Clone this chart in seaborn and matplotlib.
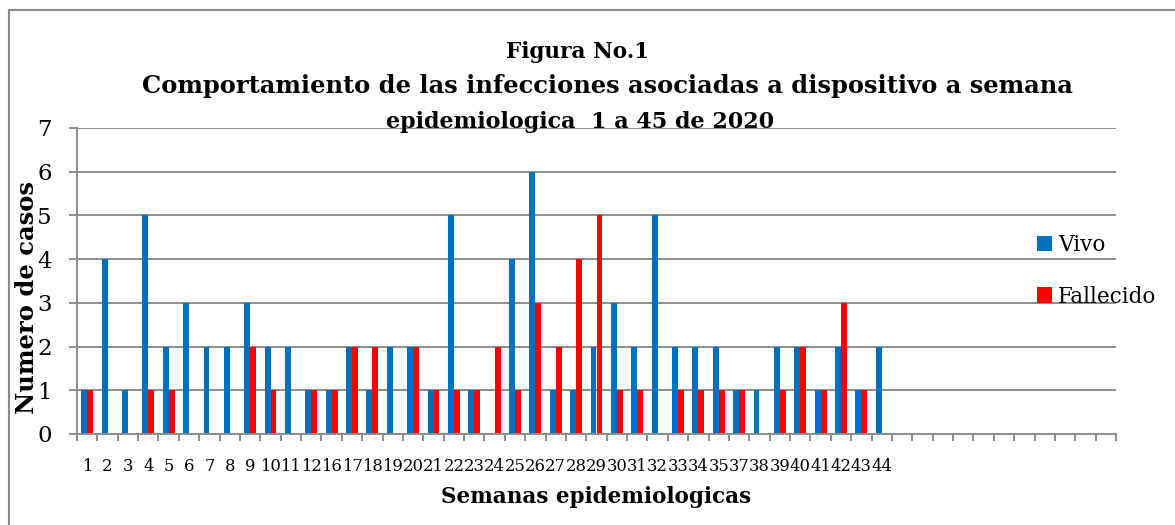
import matplotlib
matplotlib.use("Agg")
import matplotlib.pyplot as plt
from matplotlib.lines import Line2D
import seaborn as sns
import pandas as pd

# ---- data ----
semanas = ["1", "2", "3", "4", "5", "6", "7", "8", "9", "10", "11", "12",
           "16", "17", "18", "19", "20", "21", "22", "23", "24", "25", "26",
           "27", "28", "29", "30", "31", "32", "33", "34", "35", "37", "38",
           "39", "40", "41", "42", "43", "44"]
vivo = [1, 4, 1, 5, 2, 3, 2, 2, 3, 2, 2, 1,
        1, 2, 1, 2, 2, 1, 5, 1, 0, 4, 6,
        1, 1, 2, 3, 2, 5, 2, 2, 2, 1, 1,
        2, 2, 1, 2, 1, 2]
fallecido = [1, 0, 0, 1, 1, 0, 0, 0, 2, 1, 0, 1,
             1, 2, 2, 0, 2, 1, 1, 1, 2, 1, 3,
             2, 4, 5, 1, 1, 0, 1, 1, 1, 1, 0,
             1, 2, 1, 3, 1, 0]
n_vacias = 11  # empty trailing categories on the axis
series = ["Vivo", "Fallecido"]
colores = ["#0070C0", "#FF0000"]

titulo1 = "Figura No.1"
titulo2 = "Comportamiento de las infecciones asociadas a dispositivo a semana"
titulo3 = "epidemiologica  1 a 45 de 2020"
xlabel = "Semanas epidemiologicas"
ylabel = "Numero de casos"

# ---- build long table ----
vacias = [f"_v{i}" for i in range(n_vacias)]
orden = semanas + vacias
df = pd.DataFrame({
    "semana": semanas * 2,
    "casos": vivo + fallecido,
    "serie": [series[0]] * len(semanas) + [series[1]] * len(semanas),
})

sns.set_theme(style="white")
plt.rcParams["font.family"] = ["DejaVu Serif"]
plt.rcParams["text.color"] = "black"
plt.rcParams["axes.labelcolor"] = "black"

W, H = 1175, 525
fig = plt.figure(figsize=(W / 100, H / 100), dpi=100)
ax = fig.add_axes([77 / W, 1 - 434 / H, (1116 - 77) / W, (434 - 128) / H])

sns.barplot(data=df, x="semana", y="casos", hue="serie", order=orden,
            hue_order=series, palette=colores, width=0.58, linewidth=0,
            saturation=1, ax=ax, errorbar=None)

grid_c = "#8C8C8C"
ax.set_ylim(0, 7)
ax.set_xlim(-0.5, len(orden) - 0.5)
ax.set_yticks(range(0, 8))
ax.yaxis.grid(True, color=grid_c, linewidth=1.4)
ax.set_axisbelow(True)
for s in ["top", "right"]:
    ax.spines[s].set_visible(False)
for s in ["left", "bottom"]:
    ax.spines[s].set_color(grid_c)
    ax.spines[s].set_linewidth(1.4)

ax.set_xticks(range(len(orden)))
ax.set_xticklabels(semanas + [""] * n_vacias)
ax.set_xticks([i - 0.5 for i in range(len(orden) + 1)], minor=True)
ax.tick_params(axis="x", which="major", length=0, pad=17, labelsize=11.8,
               labelcolor="black")
ax.tick_params(axis="x", which="minor", length=5, width=1.4, color=grid_c,
               direction="out", bottom=True)
ax.tick_params(axis="y", length=6, width=1.4, color=grid_c, direction="out",
               left=True, pad=12, labelsize=16.5, labelcolor="black")

ax.set_xlabel("")
ax.set_ylabel("")

fig.text(27 / W, 1 - 297 / H, ylabel, rotation=90, ha="center", va="center",
         fontsize=17.5, fontweight="bold")
fig.text(596 / W, 1 - 497 / H, xlabel, ha="center", va="center",
         fontsize=15.5, fontweight="bold")

fig.text(578 / W, 1 - 58 / H, titulo1, ha="center", va="baseline",
         fontsize=15.5, fontweight="bold")
fig.text(607 / W, 1 - 93 / H, titulo2, ha="center", va="baseline",
         fontsize=17.4, fontweight="bold")
fig.text(580 / W, 1 - 128 / H, titulo3, ha="center", va="baseline",
         fontsize=16, fontweight="bold")

# legend
handles, labels = ax.get_legend_handles_labels()
ax.legend(handles, labels, loc="center left",
          bbox_to_anchor=(1028 / W, 1 - 271 / H), bbox_transform=fig.transFigure,
          frameon=False, fontsize=15.5, handlelength=0.7, handleheight=0.7,
          handletextpad=0.3, labelspacing=1.35, borderaxespad=0)

# outer chart border (top and left edges visible)
fig.add_artist(Line2D([9 / W, 9 / W], [0, 1 - 10 / H], transform=fig.transFigure,
                      color="#8A8A8A", linewidth=1.5))
fig.add_artist(Line2D([9 / W, 1], [1 - 10 / H, 1 - 10 / H],
                      transform=fig.transFigure, color="#8A8A8A", linewidth=1.5))

fig.savefig("out.png", dpi=100)
